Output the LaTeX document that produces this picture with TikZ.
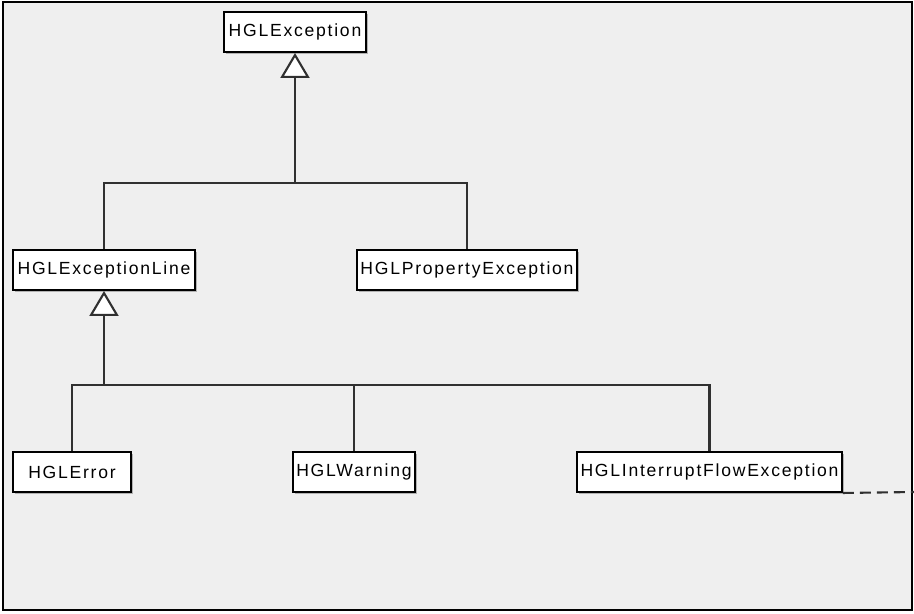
\documentclass[tikz,border=0pt]{standalone}
\usepackage{fontspec}
\setmainfont{Liberation Sans}[LetterSpace=10]
\usepackage{tikz}
\usetikzlibrary{arrows.meta,shadows}
\definecolor{panel}{HTML}{EFEFEF}
\definecolor{wire}{HTML}{303030}

\begin{document}
\begin{tikzpicture}[x=0.02cm,y=-0.02cm,
	cls/.style={draw=black,line width=1.1pt,fill=white,inner sep=0pt,minimum height=0.8cm,
		font=\fontsize{10}{12}\selectfont,
		drop shadow={shadow xshift=0.04cm,shadow yshift=-0.04cm,fill=black!30,opacity=1}},
	wires/.style={draw=wire,line width=1.2pt},
	isa/.style={wires,-{Triangle[fill=white,length=0.5cm,width=0.58cm]}}]
\useasboundingbox (0,0) rectangle (914,613);
\fill[white] (0,0) rectangle (914,613);
\filldraw[fill=panel,draw=black,line width=1.3pt] (3,2) rectangle (912,610);

\node[cls,minimum width=2.84cm] (exc) at (295,32) {HGLException};
\node[cls,minimum width=3.64cm] (line) at (104,270) {HGLExceptionLine};
\node[cls,minimum width=4.4cm] (prop) at (467,270) {HGLPropertyException};
\node[cls,minimum width=2.36cm] (err) at (72,472) {HGLError};
\node[cls,minimum width=2.44cm] (warn) at (354,472) {HGLWarning};
\node[cls,minimum width=5.3cm] (intr) at (709.5,472) {HGLInterruptFlowException};

\coordinate (busA) at (295,183);
\coordinate (busB) at (104,385);
\coordinate (edge) at (914,492);

\draw[isa] (busA) -- (exc);
\draw[wires] (line) |- (busA) -| (prop);
\draw[isa] (busB) -- (line);
\draw[wires] (err) |- (busB) -| (intr);
\draw[wires] (warn) -- (warn |- busB);
\draw[wires,dash pattern=on 0.22cm off 0.12cm] (intr.south east) -- (edge);
\end{tikzpicture}
\end{document}
